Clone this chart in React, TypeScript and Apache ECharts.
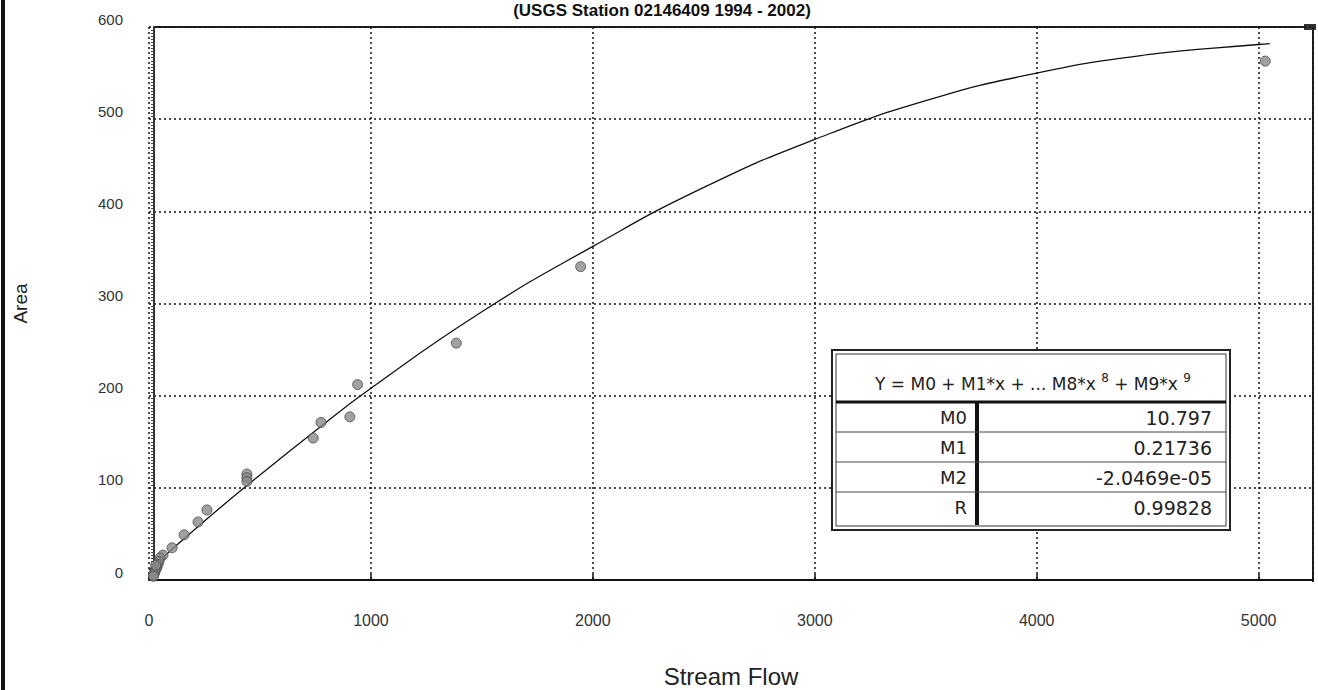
import React, { useEffect, useRef } from "react";
import * as echarts from "echarts";

const titleText = "(USGS Station 02146409 1994 - 2002)";
const xName = "Stream Flow";
const yName = "Area";

// observed points [stream flow, area]
const flowValues = [5030, 1945, 1385, 940, 905, 775, 740, 441, 441, 441, 261, 221, 158, 104, 63, 50, 45, 40, 36, 32, 28, 25, 22, 20, 30];
const areaValues = [563, 340, 257, 212, 177, 171, 154, 115, 111, 107, 76, 63, 49, 35, 27, 24, 20, 17, 14, 12, 10, 8, 6, 4, 16];

// fitted curve
const fitX = [0, 250, 500, 750, 1000, 1500, 2000, 2500, 3000, 3500, 4000, 4500, 5000, 5050];
const fitY = [11, 64, 114, 162, 208, 291, 362, 426, 478, 520, 550, 570, 581, 582];

const headerMain1 = "Y = M0 + M1*x + ... M8*x ";
const headerSup1 = "8";
const headerMain2 = " + M9*x ";
const headerSup2 = "9";
const tableNames = ["M0", "M1", "M2", "R"];
const tableValues = ["10.797", "0.21736", "-2.0469e-05", "0.99828"];

const FONT = "Liberation Sans, Arial, sans-serif";
const TFONT = "DejaVu Sans, sans-serif";

export default function App() {
  const ref = useRef<HTMLDivElement>(null);
  useEffect(() => {
    if (!ref.current) return;
    const chart = echarts.init(ref.current, null, { renderer: "svg" });

    const scatterData = flowValues.map((x, i) => [x, areaValues[i]]);
    const fitData = fitX.map((x, i) => [x, fitY[i]]);

    // table geometry
    const tx = 832, ty = 350, tw = 398, th = 180;
    const rowTops = [402, 432, 462, 492];
    const rowH = 31;
    const Z = 50;
    const tableEls: any[] = [
      { type: "rect", z: Z, shape: { x: tx, y: ty, width: tw, height: th }, style: { fill: "#fff", stroke: "#222", lineWidth: 2 } },
      { type: "rect", z: Z + 1, shape: { x: tx + 4, y: ty + 4, width: tw - 8, height: th - 8 }, style: { fill: "none", stroke: "#333", lineWidth: 1 } },
      { type: "line", z: Z + 1, shape: { x1: tx + 4, y1: 402, x2: tx + tw - 4, y2: 402 }, style: { stroke: "#111", lineWidth: 3 } },
      { type: "line", z: Z + 1, shape: { x1: 977, y1: 403, x2: 977, y2: ty + th - 5 }, style: { stroke: "#111", lineWidth: 4 } },
      {
        type: "text",
        z: Z + 2,
        x: 1033,
        y: 382,
        style: {
          text: `{m|${headerMain1}}{s|${headerSup1}}{m|${headerMain2}}{s|${headerSup2}}`,
          align: "center",
          verticalAlign: "middle",
          fill: "#222",
          rich: {
            m: { fontSize: 17, fontFamily: TFONT, fill: "#222", verticalAlign: "bottom" },
            s: { fontSize: 12, fontFamily: TFONT, fill: "#222", verticalAlign: "top", padding: [0, 0, 8, 0] },
          },
        },
      },
    ];
    rowTops.forEach((r, i) => {
      if (i > 0) tableEls.push({ type: "line", z: Z + 1, shape: { x1: tx + 4, y1: r, x2: tx + tw - 4, y2: r }, style: { stroke: "#444", lineWidth: 1 } });
      tableEls.push({ type: "text", z: Z + 2, x: 967, y: r + rowH / 2, style: { text: tableNames[i], font: `18px ${TFONT}`, fill: "#222", align: "right", verticalAlign: "middle" } });
      tableEls.push({ type: "text", z: Z + 2, x: 1212, y: r + rowH / 2, style: { text: tableValues[i], font: `19px ${TFONT}`, fill: "#222", align: "right", verticalAlign: "middle" } });
    });

    chart.setOption({
      animation: false,
      backgroundColor: "#fff",
      grid: { left: 149, top: 27, right: 5, bottom: 110, outerBoundsMode: "none" },
      xAxis: {
        type: "value",
        min: 0,
        max: 5245,
        interval: 1000,
        name: xName,
        nameLocation: "middle",
        nameGap: 84,
        nameTextStyle: { fontSize: 24, color: "#222", fontFamily: FONT },
        axisLine: { show: true, lineStyle: { color: "#111", width: 2 } },
        axisTick: { show: true, inside: true, length: 6, lineStyle: { color: "#111", width: 1.5 } },
        axisLabel: { margin: 32, fontSize: 16, color: "#333", fontFamily: FONT, showMaxLabel: false, formatter: (v: number) => String(v) },
        splitLine: { show: true, lineStyle: { color: "#111", width: 1.5, type: [2, 3] } },
      },
      yAxis: {
        type: "value",
        min: 0,
        max: 600,
        interval: 100,
        offset: -5,
        name: yName,
        nameLocation: "middle",
        nameGap: 124,
        nameRotate: 90,
        nameTextStyle: { fontSize: 19, color: "#222", fontFamily: FONT },
        axisLine: { show: true, lineStyle: { color: "#333", width: 2 } },
        axisTick: { show: false },
        minorTick: { show: true, splitNumber: 30, length: 3, lineStyle: { color: "#444", width: 1 } },
        axisLabel: { margin: 31, fontSize: 15, color: "#333", fontFamily: FONT, verticalAlign: "bottom", lineHeight: 16, formatter: (v: number) => String(v) },
        splitLine: { show: true, lineStyle: { color: "#111", width: 1.5, type: [2, 3] } },
      },
      series: [
        {
          type: "line",
          data: fitData,
          smooth: true,
          showSymbol: false,
          lineStyle: { color: "#111", width: 1.3 },
          z: 3,
        },
        {
          type: "scatter",
          data: scatterData,
          symbolSize: 10,
          itemStyle: { color: "#8a8a8a", borderColor: "#4a4a4a", borderWidth: 1 },
          z: 4,
        },
      ],
      graphic: [
        { type: "line", shape: { x1: 3, y1: 0, x2: 3, y2: 690 }, style: { stroke: "#111", lineWidth: 4 } },
        { type: "line", shape: { x1: 154, y1: 27, x2: 1313, y2: 27 }, style: { stroke: "#222", lineWidth: 2 } },
        { type: "line", shape: { x1: 1313, y1: 27, x2: 1313, y2: 582 }, style: { stroke: "#222", lineWidth: 2 } },
        { type: "rect", shape: { x: 1304, y: 24, width: 12, height: 6 }, style: { fill: "#333" } },
        { type: "text", x: 662, y: 2, style: { text: titleText, font: `bold 17px ${FONT}`, fill: "#111", align: "center", verticalAlign: "top" } },
        ...tableEls,
      ],
    });
    return () => chart.dispose();
  }, []);
  return <div ref={ref} style={{ position: "absolute", left: 0, top: 0, width: 1318, height: 690 }} />;
}
